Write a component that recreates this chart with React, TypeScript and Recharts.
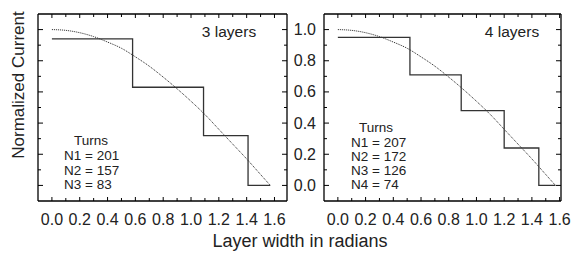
import React from "react";
import { LineChart, Line, XAxis, YAxis } from "recharts";

// ---- data ----
const curveX = [0, 0.1, 0.2, 0.3, 0.4, 0.5, 0.6, 0.7, 0.8, 0.9, 1.0, 1.1, 1.2, 1.3, 1.4, 1.5, 1.57];
const curveY = [1.0, 0.995, 0.98, 0.955, 0.92, 0.88, 0.825, 0.765, 0.695, 0.62, 0.54, 0.455, 0.36, 0.265, 0.17, 0.07, 0.0];

const step3X = [0, 0.58, 1.09, 1.41, 1.57];
const step3Y = [0.94, 0.63, 0.32, 0, 0];

const step4X = [0, 0.52, 0.89, 1.2, 1.45, 1.57];
const step4Y = [0.95, 0.71, 0.48, 0.24, 0, 0];

const turns3 = [201, 157, 83];
const turns4 = [207, 172, 126, 74];

const xTicks = [0, 0.1, 0.2, 0.3, 0.4, 0.5, 0.6, 0.7, 0.8, 0.9, 1.0, 1.1, 1.2, 1.3, 1.4, 1.5, 1.6];
const yTicks = [0, 0.1, 0.2, 0.3, 0.4, 0.5, 0.6, 0.7, 0.8, 0.9, 1.0];

const panelTitles = ["3 layers", "4 layers"];
const yTitle = "Normalized Current";
const xTitle = "Layer width in radians";

const curveData = curveX.map((x, i) => ({ x, y: curveY[i] }));
const step3Data = step3X.map((x, i) => ({ x, y: step3Y[i] }));
const step4Data = step4X.map((x, i) => ({ x, y: step4Y[i] }));

const FONT = "'Liberation Sans', Arial, Helvetica, sans-serif";
const TXT = "#222";
const isMajor = (v: number) => Math.round(v * 10) % 2 === 0;

const BottomTick = (props: any) => {
  const { x, y, payload } = props;
  const v = payload.value as number;
  const m = isMajor(v);
  return (
    <g>
      <line x1={x} x2={x} y1={y} y2={y - (m ? 4 : 3)} stroke="#000" strokeWidth={1} />
      {m && (
        <text x={x} y={y + 24} textAnchor="middle" fontSize={16} fontFamily={FONT} fill={TXT}>
          {v.toFixed(1)}
        </text>
      )}
    </g>
  );
};

const TopTick = (props: any) => {
  const { x, y, payload } = props;
  const m = isMajor(payload.value);
  return <line x1={x} x2={x} y1={y} y2={y + (m ? 4 : 3)} stroke="#000" strokeWidth={1} />;
};

const makeLeftTick = (withLabel: boolean) => (props: any) => {
  const { x, y, payload } = props;
  const v = payload.value as number;
  const m = isMajor(v);
  return (
    <g>
      <line x1={x} x2={x + (m ? 5 : 3)} y1={y} y2={y} stroke="#000" strokeWidth={1} />
      {withLabel && m && (
        <text x={x - 8} y={y + 5.5} textAnchor="end" fontSize={16} fontFamily={FONT} fill={TXT}>
          {v.toFixed(1)}
        </text>
      )}
    </g>
  );
};

const RightTick = (props: any) => {
  const { x, y, payload } = props;
  const m = isMajor(payload.value);
  return <line x1={x} x2={x - (m ? 5 : 3)} y1={y} y2={y} stroke="#000" strokeWidth={1} />;
};

const axisLine = { stroke: "#000", strokeWidth: 1.3 };

function Panel(props: {
  width: number;
  left: number;
  xMax: number;
  step: { x: number; y: number }[];
  leftAxisWidth: number;
  marginLeft: number;
  marginRight: number;
  labels: boolean;
}) {
  const { width, left, xMax, step, leftAxisWidth, marginLeft, marginRight, labels } = props;
  return (
    <div style={{ position: "absolute", left, top: 0 }}>
      <LineChart
        width={width}
        height={254}
        margin={{ top: 9, bottom: 23, left: marginLeft, right: marginRight }}
      >
        <XAxis
          xAxisId="b"
          type="number"
          dataKey="x"
          domain={[-0.1, xMax]}
          ticks={xTicks}
          interval={0}
          allowDataOverflow
          orientation="bottom"
          height={30}
          tickSize={0}
          tickMargin={0}
          tickLine={false}
          axisLine={axisLine}
          tick={BottomTick}
        />
        <XAxis
          xAxisId="t"
          type="number"
          dataKey="x"
          domain={[-0.1, xMax]}
          ticks={xTicks}
          interval={0}
          allowDataOverflow
          orientation="top"
          height={5}
          tickSize={0}
          tickMargin={0}
          tickLine={false}
          axisLine={axisLine}
          tick={TopTick}
        />
        <YAxis
          yAxisId="l"
          type="number"
          domain={[-0.1, 1.1]}
          ticks={yTicks}
          interval={0}
          allowDataOverflow
          orientation="left"
          width={leftAxisWidth}
          tickSize={0}
          tickMargin={0}
          tickLine={false}
          axisLine={axisLine}
          tick={makeLeftTick(labels)}
        />
        <YAxis
          yAxisId="r"
          type="number"
          domain={[-0.1, 1.1]}
          ticks={yTicks}
          interval={0}
          allowDataOverflow
          orientation="right"
          width={5}
          tickSize={0}
          tickMargin={0}
          tickLine={false}
          axisLine={axisLine}
          tick={RightTick}
        />
        <Line
          xAxisId="b"
          yAxisId="l"
          data={curveData}
          dataKey="y"
          type="monotone"
          stroke="#222"
          strokeWidth={1}
          strokeDasharray="1 1"
          dot={false}
          isAnimationActive={false}
        />
        <Line
          xAxisId="b"
          yAxisId="l"
          data={step}
          dataKey="y"
          type="stepAfter"
          stroke="#333"
          strokeWidth={1.3}
          dot={false}
          isAnimationActive={false}
        />
      </LineChart>
    </div>
  );
}

export default function App() {
  const tStyle = { fontFamily: FONT, fill: TXT } as const;
  return (
    <div style={{ position: "absolute", left: 0, top: 0, width: 573, height: 254, background: "#fff" }}>
      <Panel width={300} left={0} xMax={1.69} step={step3Data} leftAxisWidth={20} marginLeft={18} marginRight={8} labels={false} />
      <Panel width={283} left={290} xMax={1.61} step={step4Data} leftAxisWidth={30} marginLeft={4} marginRight={7} labels={true} />
      <svg width={573} height={254} style={{ position: "absolute", left: 0, top: 0, pointerEvents: "none" }}>
        <text x={229} y={37} textAnchor="middle" fontSize={15.5} {...tStyle}>{panelTitles[0]}</text>
        <text x={512} y={37} textAnchor="middle" fontSize={15.5} {...tStyle}>{panelTitles[1]}</text>
        <text x={91} y={145} textAnchor="middle" fontSize={13.5} {...tStyle}>Turns</text>
        {turns3.map((n, i) => (
          <text key={i} x={64} y={160 + i * 14.5} fontSize={13.5} {...tStyle}>{`N${i + 1} = ${n}`}</text>
        ))}
        <text x={376} y={132} textAnchor="middle" fontSize={13.5} {...tStyle}>Turns</text>
        {turns4.map((n, i) => (
          <text key={i} x={351} y={147 + i * 14} fontSize={13.5} {...tStyle}>{`N${i + 1} = ${n}`}</text>
        ))}
        <text transform="translate(24,85) rotate(-90)" textAnchor="middle" fontSize={17} {...tStyle}>{yTitle}</text>
        <text x={300} y={247} textAnchor="middle" fontSize={18} {...tStyle}>{xTitle}</text>
      </svg>
    </div>
  );
}
